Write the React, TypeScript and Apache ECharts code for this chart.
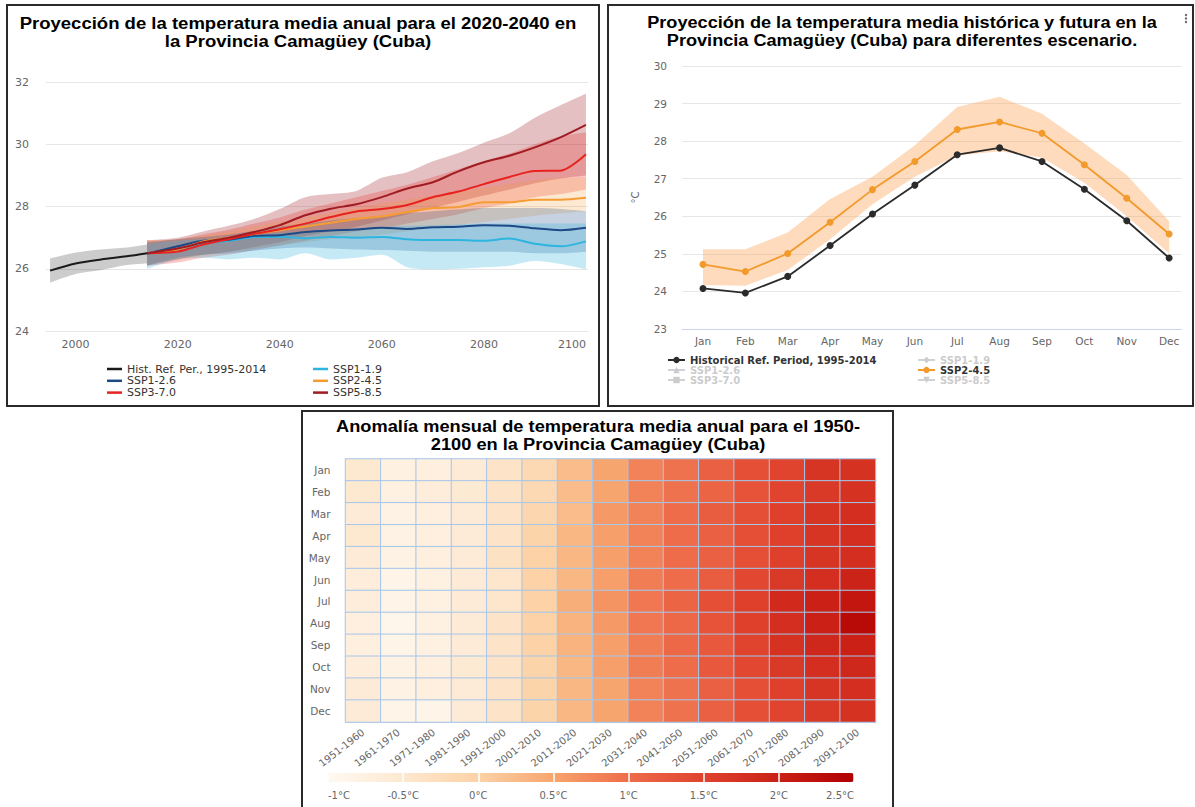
import React, { useEffect, useRef } from "react";
import * as echarts from "echarts";

// ---------- Panel 1: annual mean temperature projection ----------
const histYears = [1995, 2000, 2005, 2010, 2014];
const histMean = [25.94, 26.17, 26.3, 26.4, 26.5];
const histLow = [25.55, 25.83, 25.96, 26.12, 26.17];
const histHigh = [26.33, 26.52, 26.62, 26.68, 26.78];

const projYears = [2014, 2020, 2025, 2030, 2035, 2040, 2045, 2050, 2055, 2060, 2065, 2070, 2075, 2080, 2085, 2090, 2095, 2100];
const ssp119 = [26.5, 26.63, 26.82, 26.9, 27.02, 27.03, 26.98, 27.02, 27.0, 27.02, 26.95, 26.92, 26.92, 26.9, 26.97, 26.8, 26.72, 26.88];
const ssp126 = [26.48, 26.72, 26.9, 26.93, 27.06, 27.08, 27.18, 27.23, 27.26, 27.32, 27.28, 27.33, 27.35, 27.4, 27.38, 27.3, 27.24, 27.32];
const ssp245 = [26.5, 26.62, 26.88, 27.0, 27.12, 27.24, 27.36, 27.48, 27.6, 27.68, 27.82, 27.95, 27.98, 28.14, 28.14, 28.22, 28.22, 28.28];
const ssp370 = [26.5, 26.55, 26.78, 26.95, 27.12, 27.27, 27.45, 27.66, 27.84, 27.92, 28.05, 28.3, 28.48, 28.72, 28.95, 29.14, 29.15, 29.68];
const ssp585 = [26.5, 26.65, 26.85, 27.0, 27.18, 27.4, 27.72, 27.93, 28.07, 28.3, 28.58, 28.78, 29.13, 29.42, 29.63, 29.9, 30.22, 30.62];

const ssp119Low = [26.0, 26.3, 26.35, 26.3, 26.35, 26.3, 26.5, 26.3, 26.35, 26.45, 26.05, 25.98, 26.0, 26.05, 26.1, 26.25, 26.15, 25.98];
const ssp119High = [26.8, 26.9, 26.95, 27.0, 27.08, 27.15, 27.2, 27.25, 27.3, 27.35, 27.38, 27.4, 27.42, 27.45, 27.45, 27.45, 27.45, 27.45];
const ssp126Low = [26.1, 26.35, 26.45, 26.5, 26.58, 26.65, 26.68, 26.65, 26.62, 26.6, 26.58, 26.55, 26.55, 26.55, 26.55, 26.5, 26.5, 26.55];
const ssp126High = [26.85, 26.95, 27.02, 27.1, 27.22, 27.35, 27.45, 27.55, 27.62, 27.7, 27.78, 27.85, 27.9, 27.95, 27.95, 27.95, 27.92, 27.85];
const ssp245Low = [26.15, 26.3, 26.42, 26.55, 26.65, 26.75, 26.85, 26.95, 27.02, 27.1, 27.2, 27.3, 27.4, 27.5, 27.6, 27.7, 27.78, 27.85];
const ssp245High = [26.9, 26.95, 27.08, 27.2, 27.35, 27.5, 27.65, 27.8, 27.95, 28.1, 28.22, 28.35, 28.48, 28.6, 28.72, 28.85, 28.92, 28.95];
const ssp370Low = [26.1, 26.2, 26.35, 26.45, 26.6, 26.75, 26.9, 27.05, 27.2, 27.3, 27.45, 27.6, 27.75, 27.95, 28.1, 28.3, 28.4, 28.55];
const ssp370High = [26.9, 26.95, 27.1, 27.25, 27.45, 27.65, 27.9, 28.1, 28.3, 28.5, 28.7, 28.95, 29.2, 29.45, 29.7, 30.0, 30.25, 30.38];
const ssp585Low = [26.1, 26.3, 26.45, 26.55, 26.7, 26.85, 27.05, 27.2, 27.35, 27.55, 27.75, 27.95, 28.15, 28.35, 28.55, 28.75, 28.9, 29.0];
const ssp585High = [26.92, 27.0, 27.2, 27.38, 27.6, 27.92, 28.3, 28.4, 28.5, 28.92, 29.1, 29.45, 29.72, 30.05, 30.35, 30.85, 31.25, 31.62];

const yearTicks = [2000, 2020, 2040, 2060, 2080, 2100];

// ---------- Panel 2: monthly climatology ----------
const monthNames = ["Jan", "Feb", "Mar", "Apr", "May", "Jun", "Jul", "Aug", "Sep", "Oct", "Nov", "Dec"];
const monthIdx = [0, 1, 2, 3, 4, 5, 6, 7, 8, 9, 10, 11];
const histMonthly = [24.08, 23.96, 24.4, 25.22, 26.06, 26.83, 27.64, 27.82, 27.46, 26.72, 25.88, 24.89];
const ssp245Monthly = [24.72, 24.53, 25.01, 25.84, 26.71, 27.46, 28.31, 28.51, 28.21, 27.37, 26.48, 25.53];
const ssp245MonthlyLow = [24.17, 24.15, 24.57, 25.39, 26.32, 27.05, 27.62, 27.73, 27.56, 26.89, 26.0, 25.01];
const ssp245MonthlyHigh = [25.12, 25.12, 25.57, 26.46, 27.05, 27.89, 28.91, 29.18, 28.73, 27.94, 27.1, 25.87];

// ---------- Panel 3: monthly anomaly heatmap ----------
const decades = ["1951-1960", "1961-1970", "1971-1980", "1981-1990", "1991-2000", "2001-2010", "2011-2020", "2021-2030", "2031-2040", "2041-2050", "2051-2060", "2061-2070", "2071-2080", "2081-2090", "2091-2100"];
const anomalyByMonth = [
  [-0.5, -0.75, -0.7, -0.6, -0.4, -0.15, 0.25, 0.5, 0.8, 0.95, 1.15, 1.35, 1.5, 1.7, 1.75],
  [-0.5, -0.75, -0.65, -0.55, -0.4, -0.15, 0.25, 0.5, 0.8, 0.95, 1.1, 1.3, 1.5, 1.65, 1.75],
  [-0.6, -0.8, -0.7, -0.6, -0.4, -0.1, 0.25, 0.6, 0.8, 1.0, 1.2, 1.35, 1.55, 1.7, 1.8],
  [-0.5, -0.8, -0.7, -0.6, -0.4, -0.05, 0.3, 0.55, 0.8, 1.0, 1.15, 1.35, 1.55, 1.7, 1.8],
  [-0.6, -0.8, -0.7, -0.6, -0.35, 0.0, 0.3, 0.55, 0.8, 1.0, 1.15, 1.35, 1.55, 1.7, 1.8],
  [-0.65, -0.85, -0.75, -0.6, -0.45, 0.0, 0.3, 0.55, 0.85, 1.0, 1.2, 1.45, 1.65, 1.8, 1.95],
  [-0.65, -0.85, -0.75, -0.6, -0.45, 0.0, 0.4, 0.65, 0.9, 1.1, 1.35, 1.55, 1.85, 2.0, 2.15],
  [-0.7, -0.9, -0.75, -0.6, -0.4, 0.0, 0.35, 0.6, 0.9, 1.05, 1.3, 1.55, 1.8, 2.0, 2.35],
  [-0.7, -0.85, -0.75, -0.6, -0.4, 0.0, 0.35, 0.55, 0.85, 1.05, 1.25, 1.5, 1.75, 1.9, 2.0],
  [-0.65, -0.8, -0.7, -0.55, -0.4, -0.05, 0.3, 0.55, 0.85, 1.0, 1.25, 1.45, 1.65, 1.8, 1.9],
  [-0.6, -0.8, -0.7, -0.6, -0.4, -0.05, 0.3, 0.5, 0.8, 0.95, 1.15, 1.35, 1.55, 1.7, 1.8],
  [-0.6, -0.85, -0.85, -0.6, -0.4, -0.05, 0.3, 0.5, 0.8, 0.95, 1.15, 1.35, 1.5, 1.65, 1.75],
];
const colorStops = ["#fff9f2", "#fde8d0", "#fcd2a6", "#f7a56e", "#ee6c4a", "#e0432e", "#ca2016", "#b00000"];

// year -> time-axis value (linear, so fractional years are exact)
const YEAR_MS = 365.25 * 86400000;
const yr = (y: number) => (y - 1970) * YEAR_MS;

const pairsT = (xs: number[], ys: number[]) => xs.map((x, i) => [yr(x), ys[i]]);
const diff = (hi: number[], lo: number[]) => hi.map((h, i) => +(h - lo[i]).toFixed(3));

function band1(id: string, xs: number[], lo: number[], hi: number[], color: string) {
  return [
    {
      type: "line", name: id + "-lo", xAxisIndex: 0, yAxisIndex: 0, stack: id,
      data: pairsT(xs, lo), symbol: "none", smooth: 0.3, lineStyle: { opacity: 0 }, silent: true, z: 1,
    },
    {
      type: "line", name: id + "-band", xAxisIndex: 0, yAxisIndex: 0, stack: id,
      data: pairsT(xs, diff(hi, lo)), symbol: "none", smooth: 0.3, lineStyle: { opacity: 0 },
      areaStyle: { color, opacity: 1 }, silent: true, z: 1,
    },
  ];
}

function line1(name: string, xs: number[], ys: number[], color: string) {
  return {
    type: "line", name, xAxisIndex: 0, yAxisIndex: 0, data: pairsT(xs, ys), symbol: "none",
    smooth: 0.3, lineStyle: { color, width: 2 }, itemStyle: { color }, z: 3,
  };
}

const FONT = "DejaVu Sans";

export default function App() {
  const ref = useRef<HTMLDivElement>(null);
  useEffect(() => {
    if (!ref.current) return;
    const chart = echarts.init(ref.current, undefined, { renderer: "svg" });

    const series: any[] = [
      ...band1("hist", histYears, histLow, histHigh, "rgba(0,0,0,0.2)"),
      ...band1("b585", projYears, ssp585Low, ssp585High, "rgba(158,27,35,0.28)"),
      ...band1("b370", projYears, ssp370Low, ssp370High, "rgba(232,34,31,0.25)"),
      ...band1("b245", projYears, ssp245Low, ssp245High, "rgba(245,157,51,0.22)"),
      ...band1("b126", projYears, ssp126Low, ssp126High, "rgba(29,74,134,0.25)"),
      ...band1("b119", projYears, ssp119Low, ssp119High, "rgba(45,181,224,0.28)"),
      line1("Hist. Ref. Per., 1995-2014", histYears, histMean, "#1a1a1a"),
      line1("SSP1-1.9", projYears, ssp119, "#2db5e0"),
      line1("SSP1-2.6", projYears, ssp126, "#1d4a86"),
      line1("SSP2-4.5", projYears, ssp245, "#f59d33"),
      line1("SSP3-7.0", projYears, ssp370, "#e8221f"),
      line1("SSP5-8.5", projYears, ssp585, "#a01b22"),
      // panel 2: SSP2-4.5 range as a polygon through the axes' scales
      {
        type: "custom", name: "mband", xAxisIndex: 1, yAxisIndex: 1, silent: true, z: 1,
        data: monthIdx.map((m, i) => [m, ssp245MonthlyLow[i], ssp245MonthlyHigh[i]]),
        encode: { x: 0, y: [1, 2] },
        renderItem: (params: any, api: any) => {
          if (params.dataIndex !== 0) return { type: "group", children: [] };
          const top = monthIdx.map((m, i) => api.coord([m, ssp245MonthlyHigh[i]]));
          const bot = monthIdx.map((m, i) => api.coord([m, ssp245MonthlyLow[i]])).reverse();
          return {
            type: "polygon", shape: { points: top.concat(bot) },
            style: { fill: "rgba(250,170,95,0.42)" },
          };
        },
      },
      {
        type: "line", name: "m:Historical Ref. Period, 1995-2014", xAxisIndex: 1, yAxisIndex: 1,
        data: monthIdx.map((m, i) => [m, histMonthly[i]]), symbol: "circle", symbolSize: 7,
        lineStyle: { color: "#2b2b2b", width: 1.8 }, itemStyle: { color: "#2b2b2b" }, z: 3,
      },
      {
        type: "line", name: "m:SSP2-4.5", xAxisIndex: 1, yAxisIndex: 1,
        data: monthIdx.map((m, i) => [m, ssp245Monthly[i]]), symbol: "circle", symbolSize: 7,
        lineStyle: { color: "#f39a2c", width: 1.8 }, itemStyle: { color: "#f39a2c" }, z: 3,
      },
      { type: "line", name: "m:SSP1-1.9", xAxisIndex: 1, yAxisIndex: 1, data: [], symbol: "diamond", itemStyle: { color: "#999" } },
      { type: "line", name: "m:SSP1-2.6", xAxisIndex: 1, yAxisIndex: 1, data: [], symbol: "triangle", itemStyle: { color: "#999" } },
      { type: "line", name: "m:SSP3-7.0", xAxisIndex: 1, yAxisIndex: 1, data: [], symbol: "rect", itemStyle: { color: "#999" } },
      { type: "line", name: "m:SSP5-8.5", xAxisIndex: 1, yAxisIndex: 1, data: [], symbol: "path://M0,0 L10,0 L5,9 Z", itemStyle: { color: "#999" } },
    ];
    const heatIndex = series.length;
    const heatData: number[][] = [];
    anomalyByMonth.forEach((row, m) => row.forEach((v, d) => heatData.push([d, m, v])));
    series.push({
      type: "heatmap", name: "anomalia", xAxisIndex: 2, yAxisIndex: 2, data: heatData,
      itemStyle: { borderColor: "#a6c6ea", borderWidth: 1 }, emphasis: { disabled: true },
    });

    const leg1 = [
      { name: "Hist. Ref. Per., 1995-2014", left: 107, cy: 369 },
      { name: "SSP1-2.6", left: 107, cy: 380.8 },
      { name: "SSP3-7.0", left: 107, cy: 392.6 },
      { name: "SSP1-1.9", left: 313, cy: 369 },
      { name: "SSP2-4.5", left: 313, cy: 380.8 },
      { name: "SSP5-8.5", left: 313, cy: 392.6 },
    ].map((l) => ({
      data: [l.name], left: l.left, top: l.cy - 5.5, padding: 0, icon: "rect", itemWidth: 15, itemHeight: 2.5,
      selectedMode: false, textStyle: { fontFamily: FONT, fontSize: 11, lineHeight: 11, color: "#333" },
    }));
    const leg2 = [
      { name: "m:Historical Ref. Period, 1995-2014", left: 667, cy: 360, on: true },
      { name: "m:SSP1-2.6", left: 667, cy: 370, on: false },
      { name: "m:SSP3-7.0", left: 667, cy: 380, on: false },
      { name: "m:SSP1-1.9", left: 917, cy: 360, on: false },
      { name: "m:SSP2-4.5", left: 917, cy: 370, on: true },
      { name: "m:SSP5-8.5", left: 917, cy: 380, on: false },
    ].map((l) => ({
      data: [l.name], left: l.left, top: l.cy - 5, padding: 0, itemWidth: 17, itemHeight: 8,
      selected: { [l.name]: l.on }, inactiveColor: "#cccccc",
      formatter: (n: string) => n.replace(/^m:/, ""),
      textStyle: { fontFamily: FONT, fontSize: 10, lineHeight: 10, color: "#333", fontWeight: "bold" },
    }));

    const titleText = (text: string, x: number, y: number, sx: number) => ({
      type: "text", x, y, scaleX: sx, silent: true, z: 50,
      style: {
        text, fontFamily: "Liberation Sans", fontWeight: "bold", fontSize: 17, fill: "#000",
        align: "center", verticalAlign: "middle",
      },
    });

    const option: any = {
      animation: false,
      backgroundColor: "#ffffff",
      textStyle: { fontFamily: FONT },
      grid: [
        { left: 46, top: 82, width: 542, height: 249 },
        { left: 682, top: 66, width: 499, height: 263 },
        { left: 345.5, top: 459, width: 530, height: 263 },
        { left: 328, top: 773, width: 526, height: 9 },
      ],
      xAxis: [
        {
          gridIndex: 0, type: "time", position: "bottom", min: yr(1994.2), max: yr(2100.4),
          axisLine: { show: false }, axisTick: { show: false }, splitLine: { show: false },
          axisLabel: { show: false },
        },
        {
          gridIndex: 1, type: "value", min: -0.495, max: 11.28,
          axisLine: { show: true, lineStyle: { color: "#ccd6eb" } }, axisTick: { show: false }, splitLine: { show: false },
          axisLabel: {
            customValues: monthIdx, formatter: (v: number) => monthNames[Math.round(v)],
            color: "#666", fontSize: 10.5, margin: 6,
          },
        },
        {
          gridIndex: 2, type: "category", data: decades,
          axisLine: { show: true, lineStyle: { color: "#c8d4e4" } }, axisTick: { show: false },
          axisLabel: { rotate: 38, interval: 0, color: "#666", fontSize: 10, margin: 9 },
        },
        {
          gridIndex: 3, type: "value", min: -1, max: 2.5, interval: 0.5, z: 10,
          axisLine: { show: false }, axisTick: { show: false },
          splitLine: { show: true, lineStyle: { color: "#ffffff", width: 1.5 } },
          axisLabel: {
            formatter: (v: number) => `${v}°C`, color: "#666", fontSize: 10, margin: 8,
            alignMinLabel: "left", alignMaxLabel: "right",
          },
        },
        {
          // year labels for panel 1 (same span as the time axis above)
          gridIndex: 0, type: "value", position: "bottom", min: 1994.2, max: 2100.4,
          axisLine: { show: false }, axisTick: { show: false }, splitLine: { show: false },
          axisLabel: {
            customValues: yearTicks, formatter: (v: number) => String(v),
            color: "#666", fontSize: 11, margin: 8, alignMaxLabel: "right",
          },
        },
      ],
      yAxis: [
        {
          gridIndex: 0, type: "value", min: 24, max: 32, interval: 2,
          axisLine: { show: false }, axisTick: { show: false },
          splitLine: { lineStyle: { color: "#e6e6e6" } },
          axisLabel: { color: "#666", fontSize: 11, margin: 17 },
        },
        {
          gridIndex: 1, type: "value", min: 23, max: 30, interval: 1,
          axisLine: { show: false }, axisTick: { show: false },
          splitLine: { lineStyle: { color: "#e6e6e6" } },
          axisLabel: { color: "#666", fontSize: 10.5, margin: 15 },
          name: "°C", nameLocation: "middle", nameGap: 42, nameRotate: 90,
          nameTextStyle: { color: "#666", fontSize: 10 },
        },
        {
          gridIndex: 2, type: "category", data: monthNames, inverse: true,
          axisLine: { show: true, lineStyle: { color: "#c8d4e4" } }, axisTick: { show: false },
          axisLabel: { color: "#666", fontSize: 10.5, margin: 15 },
        },
        { gridIndex: 3, type: "value", min: 0, max: 1, show: false },
      ],
      legend: [...leg1, ...leg2],
      visualMap: {
        type: "continuous", seriesIndex: heatIndex, min: -1, max: 2.5, orient: "horizontal",
        left: 328, top: 773, itemWidth: 9, itemHeight: 526, calculable: false, hoverLink: false,
        padding: 0, inRange: { color: colorStops },
      },
      series,
      graphic: [
        { type: "rect", shape: { x: 7, y: 5, width: 592, height: 401 }, style: { fill: "none", stroke: "#2a2a2a", lineWidth: 2 }, silent: true, z: 60 },
        { type: "rect", shape: { x: 608, y: 5, width: 585, height: 401 }, style: { fill: "none", stroke: "#2a2a2a", lineWidth: 2 }, silent: true, z: 60 },
        { type: "rect", shape: { x: 302, y: 411, width: 591, height: 420 }, style: { fill: "none", stroke: "#2a2a2a", lineWidth: 2 }, silent: true, z: 60 },
        titleText("Proyección de la temperatura media anual para el 2020-2040 en", 298, 23.3, 1.09),
        titleText("la Provincia Camagüey (Cuba)", 298, 41.7, 1.09),
        titleText("Proyección de la temperatura media histórica y futura en la", 902, 21.7, 1.067),
        titleText("Provincia Camagüey (Cuba) para diferentes escenario.", 902, 40, 1.067),
        titleText("Anomalía mensual de temperatura media anual para el 1950-", 598, 426.7, 1.073),
        titleText("2100 en la Provincia Camagüey (Cuba)", 598, 444.3, 1.073),
        { type: "circle", shape: { cx: 1186, cy: 15, r: 1.2 }, style: { fill: "#666" }, silent: true },
        { type: "circle", shape: { cx: 1186, cy: 18.5, r: 1.2 }, style: { fill: "#666" }, silent: true },
        { type: "circle", shape: { cx: 1186, cy: 22, r: 1.2 }, style: { fill: "#666" }, silent: true },
      ],
    };
    chart.setOption(option);
    return () => chart.dispose();
  }, []);

  return (
    <div
      ref={ref}
      style={{ position: "absolute", left: 0, top: 0, width: 1195, height: 807, background: "#fff" }}
    />
  );
}
